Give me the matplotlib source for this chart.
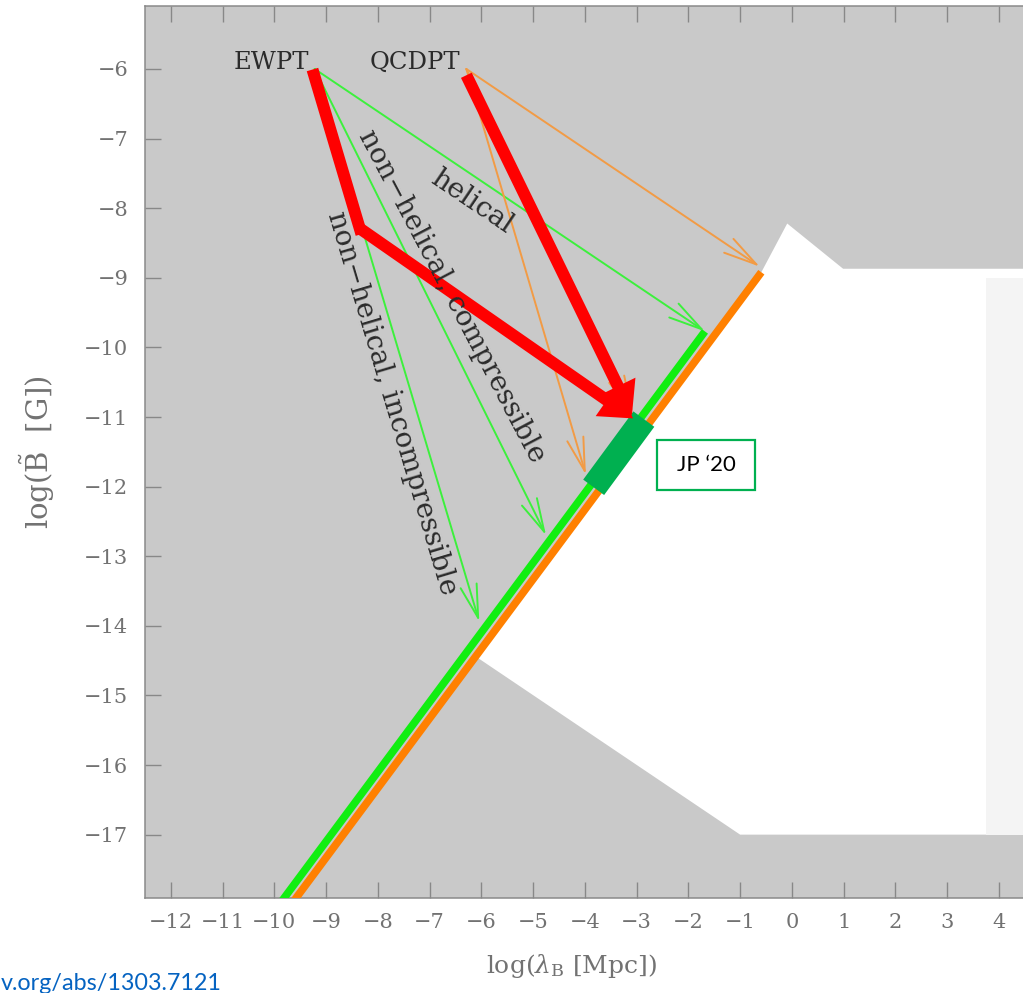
import matplotlib.pyplot as plt
from matplotlib.patches import FancyArrowPatch, Rectangle

# phase transition starting points (log lambda, log B)
ewpt = (-9.22, -6.0)
qcdpt = (-6.29, -6.0)

# thin green tracks from EWPT: helical, non-helical compressible, incompressible
green_tips_x = [-1.68, -4.75, -6.04]
green_tips_y = [-9.77, -12.70, -13.94]

# thin orange tracks from QCDPT
orange_tips_x = [-0.62, -3.07, -3.98]
orange_tips_y = [-8.84, -10.94, -11.83]

# B ~ lambda lines
green_line_x = [-10.5, -1.68]
green_line_y = [-18.6, -9.77]
orange_line_x = [-10.5, -0.59]
orange_line_y = [-18.83, -8.92]

# unconstrained (white) region
allowed_x = [-6.13, -0.59, -0.09, 0.99, 4.8, 4.8, -1.0]
allowed_y = [-14.43, -8.92, -8.22, -8.87, -8.87, -17.0, -17.0]
faint_x = [3.75, 4.8, 4.8, 3.75]
faint_y = [-9.0, -9.0, -17.0, -17.0]

# thick red tracks
red_ew_x = [-9.23, -8.35, -3.07]
red_ew_y = [-6.09, -8.29, -11.02]
red_qcd_x = [-6.29, -3.09]
red_qcd_y = [-6.09, -10.97]

# JP '20 band
jp_x = [-2.86, -3.83]
jp_y = [-11.03, -12.01]

xticks = list(range(-12, 5))
yticks = list(range(-17, -5))

plt.rcParams['font.family'] = 'DejaVu Serif'
plt.rcParams['mathtext.fontset'] = 'dejavuserif'

fig = plt.figure(figsize=(10.23, 9.93), dpi=100)
ax = fig.add_axes([0.1417, 0.0957, 0.8752, 0.8986])
ax.set_facecolor('#c9c9c9')
ax.set_xlim(-12.5, 4.8)
ax.set_ylim(-17.91, -5.09)

ax.fill(allowed_x, allowed_y, color='white', lw=0, zorder=1)
ax.fill(faint_x, faint_y, color='#f4f4f4', lw=0, zorder=1)

ax.plot(orange_line_x, orange_line_y, color='#ff8000', lw=5.5,
        solid_capstyle='butt', zorder=3)
ax.plot(green_line_x, green_line_y, color='#11ee11', lw=5.5,
        solid_capstyle='butt', zorder=3)

for tx, ty in zip(green_tips_x, green_tips_y):
    ax.annotate('', xy=(tx, ty), xytext=ewpt, zorder=4,
                arrowprops=dict(arrowstyle='->,head_length=1.2,head_width=0.3',
                                color='#3cf03c', lw=1.4, mutation_scale=20,
                                shrinkA=0, shrinkB=0))
for tx, ty in zip(orange_tips_x, orange_tips_y):
    ax.annotate('', xy=(tx, ty), xytext=qcdpt, zorder=4,
                arrowprops=dict(arrowstyle='->,head_length=1.2,head_width=0.3',
                                color='#f29b45', lw=1.4, mutation_scale=20,
                                shrinkA=0, shrinkB=0))

ax.plot(jp_x, jp_y, color='#00b050', lw=18.7, solid_capstyle='butt', zorder=5)

red_style = 'simple,head_length=2.3,head_width=2.8,tail_width=0.86'
ax.plot(red_ew_x[:2], red_ew_y[:2], color='red', lw=8.6,
        solid_capstyle='projecting', zorder=6)
ax.add_patch(FancyArrowPatch((red_ew_x[1], red_ew_y[1]), (red_ew_x[2], red_ew_y[2]),
                             arrowstyle=red_style, mutation_scale=10, color='red',
                             lw=0, shrinkA=0, shrinkB=0, zorder=6))
ax.add_patch(FancyArrowPatch((red_qcd_x[0], red_qcd_y[0]), (red_qcd_x[1], red_qcd_y[1]),
                             arrowstyle=red_style, mutation_scale=10, color='red',
                             lw=0, shrinkA=0, shrinkB=0, zorder=6))

txt = '#2b2b2b'
ax.text(-10.05, -6.0, 'EWPT', ha='center', va='baseline', fontsize=17.5, color=txt, zorder=7)
ax.text(-7.29, -6.0, 'QCDPT', ha='center', va='baseline', fontsize=17.5, color=txt, zorder=7)
ax.text(-6.19, -7.91, 'helical', rotation=-34, rotation_mode='anchor',
        ha='center', va='center', fontsize=20, color=txt, zorder=7)
ax.text(-6.58, -9.27, 'non\u2212helical, compressible', rotation=-62.2,
        rotation_mode='anchor', ha='center', va='center', fontsize=20, color=txt, zorder=7)
ax.text(-7.72, -10.80, 'non\u2212helical, incompressible', rotation=-73.4,
        rotation_mode='anchor', ha='center', va='center', fontsize=20, color=txt, zorder=7)

ax.add_patch(Rectangle((-2.603, -12.05), 1.888, 0.72, fc='white', ec='#00b050',
                       lw=1.6, zorder=7))
ax.text(-1.66, -11.69, 'JP \u201820', ha='center', va='center', fontsize=16,
        family='Lato', color='black', zorder=8)

ax.set_xticks(xticks)
ax.set_yticks(yticks)
ax.tick_params(direction='in', length=11.5, width=1.0, color='#888888',
               labelcolor='#727272', labelsize=15, top=True, right=True)
ax.tick_params(axis='x', pad=11)
ax.tick_params(axis='y', pad=12)
for sp in ax.spines.values():
    sp.set_color('#8a8a8a')
    sp.set_linewidth(1.1)

ax.set_xlabel(r'log($\lambda_{\rm B}$ [Mpc])', fontsize=18, color='#727272', va='center')
ax.xaxis.set_label_coords(0.4766, -0.0762)
ax.set_ylabel(r'log($\tilde{\rm B}$  [G])', fontsize=21, color='#727272', va='center')
ax.yaxis.set_label_coords(-0.1205, 0.5)

fig.text(1 / 1023, 0.003, 'v.org/abs/1303.7121', ha='left', va='baseline',
         fontsize=16.8, family='Lato', color='#0563c1')

fig.savefig('out.png', dpi=100)
